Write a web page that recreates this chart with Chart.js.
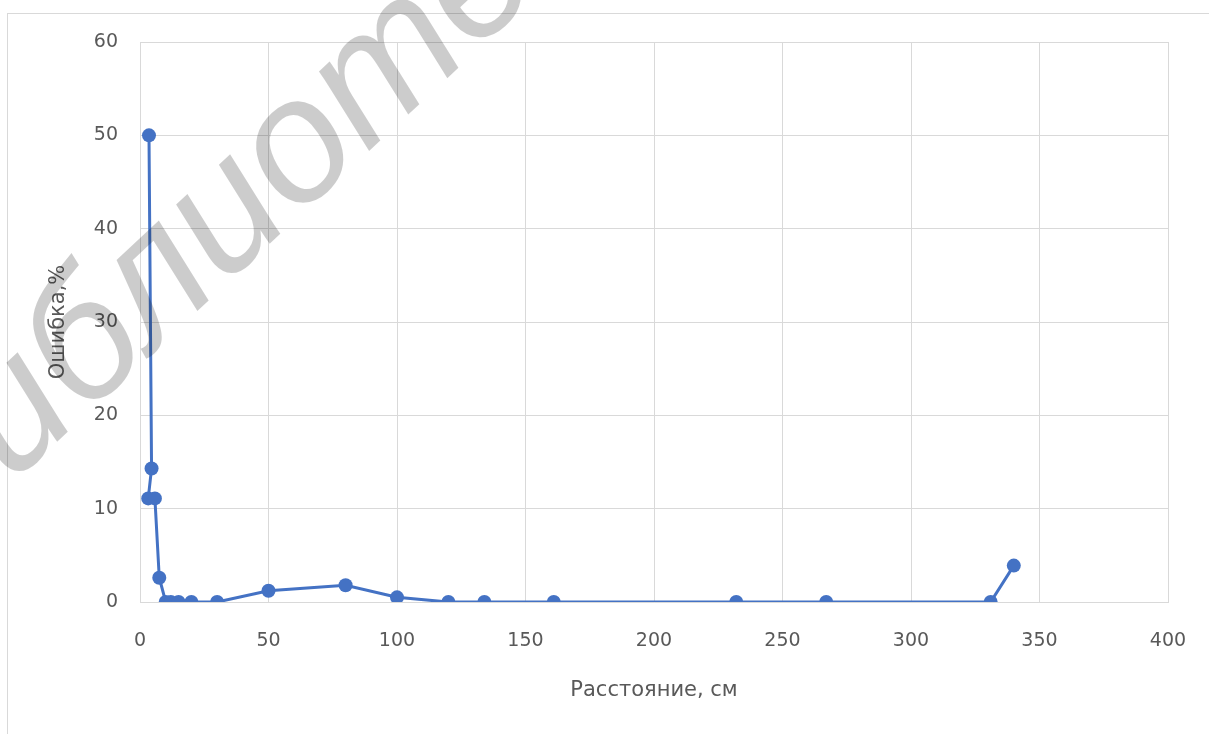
<!DOCTYPE html>
<html>
<head>
<meta charset="utf-8">
<script src="https://cdn.jsdelivr.net/npm/chart.js@4"></script>
<style>
  html, body { margin: 0; padding: 0; background: #ffffff; }
  #wrap { position: relative; width: 1209px; height: 734px; }
</style>
</head>
<body>
<div id="wrap"><canvas id="chart"></canvas></div>
<script>
// Measured distance (cm) and the corresponding error (%)
const distanceCm = [3.5, 4.5, 3.2, 5.8, 7.5, 10, 12, 15, 20, 30, 50, 80, 100, 120, 134, 161, 232, 267, 331, 340];
const errorPct   = [50, 14.3, 11.1, 11.1, 2.6, 0, 0, 0, 0, 0, 1.2, 1.8, 0.5, 0, 0, 0, 0, 0, 0, 3.9];

const xTicks = [0, 50, 100, 150, 200, 250, 300, 350, 400];
const yTicks = [0, 10, 20, 30, 40, 50, 60];

const xTitle = 'Расстояние, см';
const yTitle = 'Ошибка,%';
const stampText = 'библиотека';

const points = distanceCm.map((x, i) => ({ x: x, y: errorPct[i] }));

const FONT = '"DejaVu Sans", "Open Sans", sans-serif';
const TEXT = '#595959';
const GRID = '#d9d9d9';
const BLUE = '#4472C4';

// frame around the chart object and the diagonal stamp drawn on top
const framePlugin = {
  id: 'frame',
  beforeDraw(chart) {
    const ctx = chart.ctx;
    ctx.save();
    ctx.strokeStyle = GRID;
    ctx.lineWidth = 1;
    ctx.strokeRect(7.5, 13.5, chart.width + 20, chart.height + 20);
    ctx.restore();
  },
  afterDraw(chart) {
    const ctx = chart.ctx;
    ctx.save();
    ctx.translate(-60, 551);
    ctx.rotate(-43 * Math.PI / 180);
    ctx.font = 'italic 175px "Liberation Sans", Arial, sans-serif';
    ctx.fillStyle = 'rgba(0,0,0,0.2)';
    ctx.textBaseline = 'alphabetic';
    ctx.fillText(stampText, 0, 0);
    ctx.restore();
  }
};

new Chart(document.getElementById('chart'), {
  type: 'scatter',
  data: {
    datasets: [{
      data: points,
      showLine: true,
      borderColor: BLUE,
      backgroundColor: BLUE,
      borderWidth: 3,
      pointRadius: 7,
      pointHoverRadius: 7,
      pointBorderWidth: 0,
      tension: 0
    }]
  },
  options: {
    responsive: true,
    maintainAspectRatio: false,
    animation: false,
    events: [],
    layout: { padding: { left: 0, top: 42, right: 41, bottom: 0 } },
    plugins: { legend: { display: false }, tooltip: { enabled: false } },
    scales: {
      x: {
        type: 'linear',
        min: xTicks[0],
        max: xTicks[xTicks.length - 1],
        afterBuildTicks(scale) { scale.ticks = xTicks.map(v => ({ value: v })); },
        afterFit(scale) { scale.height = 132; scale.paddingLeft = 0; scale.paddingRight = 0; },
        grid: { color: GRID, lineWidth: 1, drawTicks: false },
        border: { color: GRID, width: 1 },
        ticks: { color: TEXT, font: { family: FONT, size: 19 }, padding: 28, maxRotation: 0 },
        title: { display: true, text: xTitle, color: TEXT, font: { family: FONT, size: 21 }, padding: { top: 0, bottom: 31 } }
      },
      y: {
        type: 'linear',
        min: yTicks[0],
        max: yTicks[yTicks.length - 1],
        afterBuildTicks(scale) { scale.ticks = yTicks.map(v => ({ value: v })); },
        afterFit(scale) { scale.width = 140; scale.paddingTop = 0; scale.paddingBottom = 0; },
        grid: { color: GRID, lineWidth: 1, drawTicks: false },
        border: { color: GRID, width: 1 },
        ticks: { color: TEXT, font: { family: FONT, size: 19 }, padding: 22 },
        title: { display: true, text: yTitle, color: TEXT, font: { family: FONT, size: 21 }, padding: { top: 46, bottom: 0 } }
      }
    }
  },
  plugins: [framePlugin]
});
</script>
</body>
</html>
